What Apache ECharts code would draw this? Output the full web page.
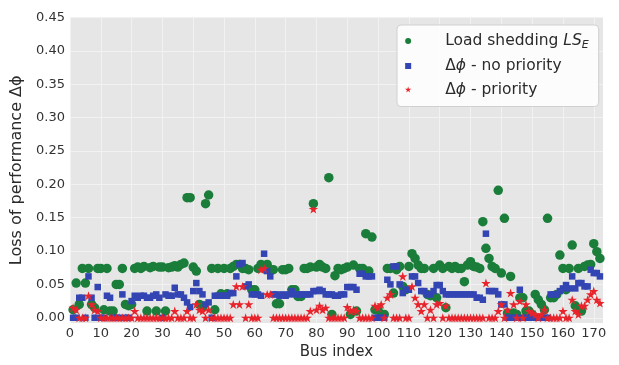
<!DOCTYPE html>
<html>
<head>
<meta charset="utf-8">
<script src="https://cdn.jsdelivr.net/npm/echarts@6/dist/echarts.min.js"></script>
<style>
  html, body { margin: 0; padding: 0; background: #fff; }
  #chart { width: 619px; height: 365px; }
</style>
</head>
<body>
<div id="chart"></div>
<script>
// 每个母线的数值（从 1 号母线开始）
const greenLS = [
  0.012, 0.052, 0.02, 0.074, 0.052, 0.074, 0.02, 0.015, 0.074, 0.074,
  0.012, 0.074, 0.01, 0.01, 0.05, 0.05, 0.074, 0.02, 0.018, 0.02,
  0.074, 0.076, 0.074, 0.077, 0.01, 0.075, 0.077, 0.01, 0.076, 0.076,
  0.01, 0.075, 0.076, 0.078, 0.076, 0.08, 0.082, 0.18, 0.18, 0.076,
  0.07, 0.02, 0.015, 0.171, 0.184, 0.074, 0.012, 0.074, 0.036, 0.074,
  0.036, 0.074, 0.077, 0.08, 0.08, 0.074, 0.074, 0.072, 0.042, 0.042,
  0.074, 0.08, 0.074, 0.08, 0.072, 0.072, 0.021, 0.021, 0.072, 0.072,
  0.074, 0.042, 0.042, 0.032, 0.032, 0.074, 0.074, 0.076, 0.171, 0.076,
  0.08, 0.076, 0.074, 0.21, 0.005, 0.063, 0.074, 0.072, 0.074, 0.076,
  0.005, 0.079, 0.01, 0.074, 0.074, 0.126, 0.07, 0.121, 0.012, 0.012,
  0.005, 0.005, 0.074, 0.074, 0.037, 0.072, 0.077, 0.047, 0.042, 0.077,
  0.096, 0.089, 0.079, 0.074, 0.074, 0.035, 0.033, 0.074, 0.03, 0.079,
  0.074, 0.015, 0.077, 0.074, 0.077, 0.074, 0.074, 0.054, 0.079, 0.084,
  0.077, 0.076, 0.074, 0.144, 0.104, 0.089, 0.077, 0.074, 0.191, 0.067,
  0.149, 0.007, 0.062, 0.007, 0.005, 0.03, 0.03, 0.01, 0.01, 0.005,
  0.035, 0.027, 0.02, 0.012, 0.149, 0.03, 0.03, 0.035, 0.094, 0.074,
  0.042, 0.074, 0.109, 0.018, 0.074, 0.01, 0.077, 0.079, 0.08, 0.111,
  0.099, 0.089
];
const blueNoPrio = [
  0, 0, 0.03, 0.03, 0, 0.062, 0.03, 0, 0.046, 0,
  0, 0.033, 0.03, 0, 0, 0, 0.035, 0, 0, 0.025,
  0.033, 0.03, 0.033, 0.033, 0.03, 0.03, 0.033, 0.035, 0.03, 0,
  0.035, 0.033, 0.033, 0.045, 0.035, 0.035, 0.03, 0.023, 0.016, 0.04,
  0.052, 0.04, 0.035, 0.02, 0.023, 0, 0.033, 0.033, 0.033, 0.033,
  0.033, 0.037, 0.037, 0.062, 0.08, 0.082, 0.047, 0.05, 0.035, 0.035,
  0.035, 0.033, 0.096, 0.07, 0.062, 0.035, 0.035, 0.033, 0.035, 0.033,
  0.035, 0.04, 0.035, 0.035, 0.035, 0.035, 0.035, 0.035, 0.04, 0.04,
  0.042, 0.04, 0.035, 0.035, 0.035, 0.033, 0.033, 0.035, 0.035, 0.046,
  0.046, 0.046, 0.042, 0.066, 0.066, 0.062, 0.062, 0.062, 0, 0,
  0, 0, 0.057, 0.05, 0.077, 0.077, 0.05, 0.037, 0.042, 0.042,
  0.062, 0.062, 0.052, 0.04, 0.04, 0.035, 0.035, 0.04, 0.049, 0.049,
  0.04, 0.035, 0.035, 0.035, 0.035, 0.035, 0.035, 0.035, 0.035, 0.035,
  0.035, 0.03, 0.03, 0.027, 0.126, 0.04, 0.04, 0.04, 0.035, 0.02,
  0.02, 0, 0, 0, 0, 0.042, 0, 0, 0, 0,
  0, 0, 0, 0, 0, 0.035, 0.035, 0.035, 0.04, 0.044,
  0.049, 0.044, 0.062, 0.044, 0.052, 0.052, 0.047, 0.047, 0.072, 0.067,
  0.067, 0.062
];
const redPrio = [
  0.015, 0.012, 0, 0, 0, 0.033, 0.02, 0.012, 0.01, 0,
  0, 0, 0, 0, 0, 0, 0, 0, 0, 0,
  0.01, 0, 0, 0, 0, 0, 0, 0, 0, 0,
  0, 0, 0, 0.01, 0, 0, 0, 0.01, 0, 0,
  0.02, 0.012, 0.01, 0, 0.012, 0, 0, 0, 0, 0,
  0, 0, 0.02, 0.047, 0.02, 0.047, 0, 0.02, 0, 0,
  0, 0.072, 0.074, 0.035, 0.035, 0, 0, 0, 0, 0,
  0, 0, 0, 0, 0, 0, 0, 0.01, 0.163, 0.012,
  0.018, 0.012, 0.015, 0, 0, 0, 0, 0, 0, 0.016,
  0.01, 0.012, 0.01, 0, 0, 0, 0, 0, 0.018, 0.015,
  0.02, 0, 0.03, 0.035, 0, 0, 0, 0.062, 0, 0,
  0.047, 0.03, 0.02, 0.01, 0.02, 0, 0.012, 0, 0.02, 0.022,
  0, 0.018, 0, 0, 0, 0, 0, 0, 0, 0,
  0, 0, 0, 0, 0.052, 0, 0, 0, 0.01, 0.02,
  0, 0.012, 0.037, 0.02, 0, 0.025, 0, 0.02, 0.01, 0.007,
  0.005, 0, 0.005, 0.012, 0, 0, 0, 0, 0, 0.01,
  0, 0, 0.027, 0.01, 0.005, 0.018, 0.018, 0.027, 0.035, 0.04,
  0.027, 0.022
];
const xTicks = [0, 10, 20, 30, 40, 50, 60, 70, 80, 90, 100, 110, 120, 130, 140, 150, 160, 170];
const yTicks = [0, 0.05, 0.1, 0.15, 0.2, 0.25, 0.3, 0.35, 0.4, 0.45];

const busIndex = greenLS.map((v, k) => k + 1);
const toPoints = arr => arr.map((v, k) => [busIndex[k], v]);

const FONT = 'DejaVu Sans';
const STAR = 'path://M50 0 L61.17 34.63 L97.55 34.55 L68.07 55.87 L79.39 90.45 L50 69 L20.61 90.45 L31.93 55.87 L2.45 34.55 L38.83 34.63 Z';
const SQUARE = 'path://M0 0 L10 0 L10 10 L0 10 Z';

var myChart = echarts.init(document.getElementById('chart'));

var option = {
  animation: false,
  textStyle: { fontFamily: FONT },
  grid: {
    left: 70,
    right: 16,
    top: 17.5,
    bottom: 39,
    show: true,
    backgroundColor: '#e6e6e6',
    borderWidth: 0
  },
  legend: {
    orient: 'vertical',
    left: 397,
    top: 25,
    padding: [8, 10, 9, 8],
    itemWidth: 24,
    itemHeight: 6,
    itemGap: 7.5,
    backgroundColor: 'rgba(255,255,255,0.85)',
    borderColor: '#d0d0d0',
    borderWidth: 1,
    borderRadius: 4,
    formatter: function (name) {
      if (name === 'ls') return '{s|}{t|Load shedding }{it|LS}{sub|E}';
      if (name === 'np') return '{s|}{t|Δ}{it|ϕ}{t| - no priority}';
      return '{s|}{t|Δ}{it|ϕ}{t| - priority}';
    },
    textStyle: {
      fontFamily: FONT,
      fontSize: 15.5,
      color: '#2b2b2b',
      lineHeight: 16,
      rich: {
        s: { width: 20 },
        t: { fontFamily: FONT, fontSize: 15.5, color: '#2b2b2b' },
        it: { fontFamily: FONT, fontSize: 15.5, fontStyle: 'italic', color: '#2b2b2b' },
        sub: { fontFamily: FONT, fontSize: 11, fontStyle: 'italic', color: '#2b2b2b', padding: [8, 0, 0, 0] }
      }
    },
    data: [
      { name: 'ls', icon: 'circle' },
      { name: 'np', icon: SQUARE },
      { name: 'p', icon: STAR }
    ]
  },
  xAxis: {
    type: 'value',
    min: 0,
    max: 173,
    name: 'Bus index',
    nameLocation: 'middle',
    nameGap: 18,
    nameTextStyle: { fontFamily: FONT, fontSize: 15, color: '#2b2b2b' },
    axisLine: { show: false },
    axisTick: { show: false, customValues: xTicks },
    axisLabel: { customValues: xTicks, margin: 4, fontSize: 13, color: '#333', fontFamily: FONT },
    splitLine: { show: true, lineStyle: { color: '#f2f2f2', width: 1 } }
  },
  yAxis: {
    type: 'value',
    min: -0.008,
    max: 0.45,
    name: 'Loss of performance Δϕ',
    nameLocation: 'middle',
    nameGap: 45,
    nameRotate: 90,
    nameTextStyle: { fontFamily: FONT, fontSize: 16, color: '#2b2b2b' },
    axisLine: { show: false },
    axisTick: { show: false, customValues: yTicks },
    axisLabel: {
      customValues: yTicks,
      margin: 5,
      fontSize: 13,
      color: '#333',
      fontFamily: FONT,
      formatter: v => v.toFixed(2)
    },
    splitLine: { show: true, lineStyle: { color: '#f2f2f2', width: 1 } }
  },
  series: [
    {
      name: 'ls',
      type: 'scatter',
      symbol: 'circle',
      symbolSize: 9.5,
      itemStyle: { color: '#1b7d3a', opacity: 1 },
      data: toPoints(greenLS)
    },
    {
      name: 'np',
      type: 'scatter',
      symbol: SQUARE,
      symbolKeepAspect: true,
      symbolSize: 6.5,
      itemStyle: { color: '#3344b3', opacity: 1 },
      data: toPoints(blueNoPrio)
    },
    {
      name: 'p',
      type: 'scatter',
      symbol: STAR,
      symbolKeepAspect: true,
      symbolSize: 9.5,
      itemStyle: { color: '#e8232b', opacity: 1 },
      data: toPoints(redPrio)
    }
  ]
};

myChart.setOption(option);
</script>
</body>
</html>
